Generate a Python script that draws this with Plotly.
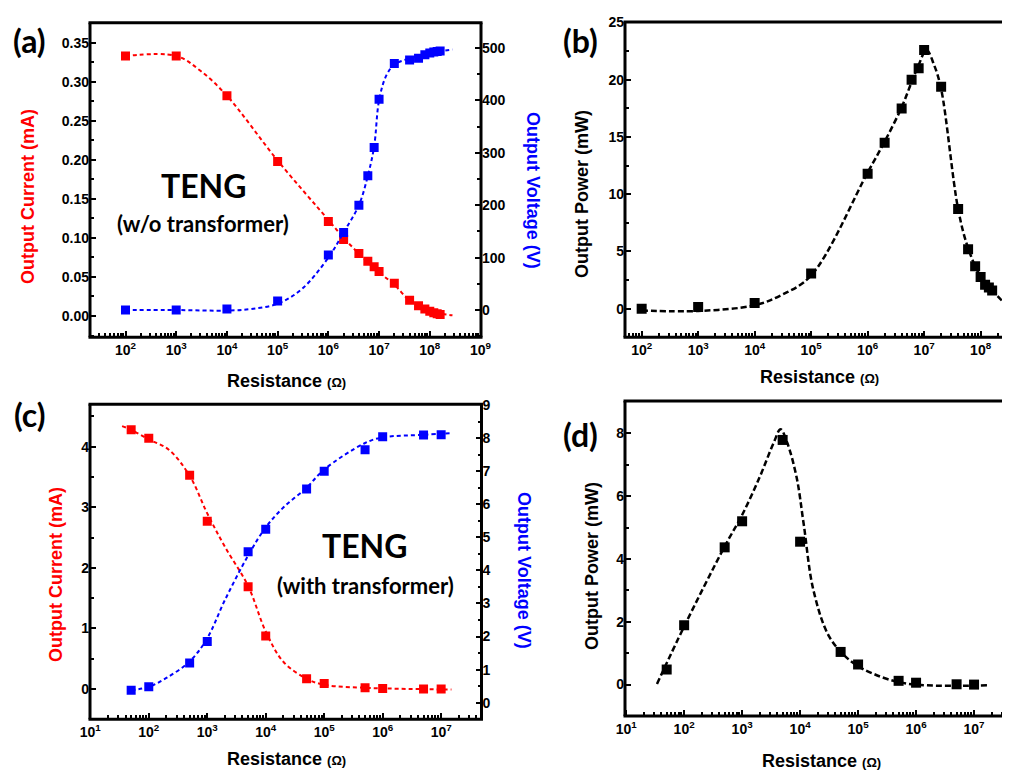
import plotly.graph_objects as go

# ---------------- data ----------------
# panel (a): TENG without transformer
A_R = [1e2, 1e3, 1e4, 1e5, 1e6, 2e6, 4e6, 6e6, 8e6, 1e7, 2e7, 4e7, 6e7, 8e7, 1e8, 1.2e8, 1.4e8, 1.6e8]
A_I = [0.333, 0.333, 0.282, 0.198, 0.121, 0.098, 0.080, 0.070, 0.063, 0.057, 0.042, 0.020, 0.013,
       0.009, 0.006, 0.004, 0.003, 0.002]
A_V = [0, 0, 2, 17, 105, 148, 200, 256, 310, 402, 470, 477, 480, 487, 490, 492, 493, 494]
# fitted (dashed) curves
A_FIT_I_R = [1e2, 1e3, 3e3, 1e4, 1e5, 1e6, 2e6, 4e6, 1e7, 2e7, 4e7, 1e8, 2.8e8]
A_FIT_I = [0.333, 0.333, 0.314, 0.282, 0.199, 0.123, 0.100, 0.080, 0.056, 0.040, 0.020, 0.006, 0.001]
A_FIT_V_R = [1e2, 1e3, 1e4, 3e4, 1e5, 3e5, 1e6, 2e6, 4e6, 6e6, 8e6, 1e7, 1.4e7, 2e7, 4e7, 1e8, 2.8e8]
A_FIT_V = [0, 0, -1, 2, 12, 40, 100, 148, 200, 256, 312, 400, 448, 468, 480, 490, 497]

# panel (b): output power without transformer
B_R = A_R
B_P = [0, 0.15, 0.5, 3.07, 11.8, 14.5, 17.5, 20.0, 21.0, 22.6, 19.4, 8.7, 5.2, 3.7, 2.77, 2.1, 1.85, 1.6]
B_FIT_R = [1e2, 1e3, 1e4, 3e4, 1e5, 1e6, 2e6, 4e6, 6e6, 8e6, 1.1e7, 1.5e7, 2e7, 4e7, 6e7, 1e8, 1.6e8, 2.5e8]
B_FIT_P = [-0.15, -0.2, 0.3, 1.2, 2.9, 11.9, 14.6, 17.6, 19.8, 21.3, 22.6, 21.3, 19.2, 8.7, 5.3, 2.8, 1.6, 0.6]

# panel (c): TENG with transformer
C_R = [5e1, 1e2, 5e2, 1e3, 5e3, 1e4, 5e4, 1e5, 5e5, 1e6, 5e6, 1e7]
C_I = [4.28, 4.14, 3.53, 2.77, 1.69, 0.875, 0.17, 0.09, 0.02, 0.01, 0.0, 0.0]
C_V = [0.38, 0.48, 1.20, 1.85, 4.56, 5.24, 6.46, 7.0, 7.65, 8.04, 8.09, 8.1]
C_FIT_I_R = [35, 5e1, 1e2, 2.2e2, 5e2, 1e3, 2e3, 5e3, 1e4, 2e4, 5e4, 1e5, 5e5, 1e6, 1.5e7]
C_FIT_I = [4.34, 4.28, 4.12, 3.95, 3.52, 2.9, 2.35, 1.7, 0.95, 0.45, 0.17, 0.07, 0.02, 0.01, -0.01]
C_FIT_V_R = [5e1, 1e2, 2e2, 5e2, 1e3, 2e3, 5e3, 1e4, 2e4, 5e4, 1e5, 5e5, 1e6, 5e6, 1.5e7]
C_FIT_V = [0.38, 0.48, 0.75, 1.25, 1.95, 3.1, 4.45, 5.3, 5.9, 6.5, 7.05, 7.85, 8.02, 8.1, 8.15]

# panel (d): output power with transformer
D_R = C_R
D_P = [0.48, 1.89, 4.37, 5.2, 7.79, 4.55, 1.04, 0.64, 0.12, 0.06, 0.01, 0.0]
D_FIT_R = [34, 1e2, 5e2, 1e3, 2e3, 3.5e3, 4.6e3, 6e3, 8.7e3, 1.15e4, 1.7e4, 3.2e4, 7.2e4, 1.8e5, 7e5, 1.8e7]
D_FIT_P = [0.02, 1.85, 4.4, 5.4, 6.6, 7.7, 8.13, 7.7, 6.6, 5.13, 3.0, 1.52, 0.77, 0.35, 0.03, -0.02]

# tick labels
AB_XTICKS = [1e2, 1e3, 1e4, 1e5, 1e6, 1e7, 1e8, 1e9]
AB_XLABELS = ["10<sup>2</sup>", "10<sup>3</sup>", "10<sup>4</sup>", "10<sup>5</sup>",
              "10<sup>6</sup>", "10<sup>7</sup>", "10<sup>8</sup>", "10<sup>9</sup>"]
CD_XTICKS = [1e1, 1e2, 1e3, 1e4, 1e5, 1e6, 1e7]
CD_XLABELS = ["10<sup>1</sup>", "10<sup>2</sup>", "10<sup>3</sup>", "10<sup>4</sup>",
              "10<sup>5</sup>", "10<sup>6</sup>", "10<sup>7</sup>"]

RED = "#ff0000"
BLUE = "#0000ff"
BLACK = "#000000"

# ---------------- layout helpers ----------------
# the page body has an 8px margin at top/left; the figure runs to the window's far edges
OFF = 8
W, H = 1010 - OFF, 770 - OFF


def px(x):
    return (x - OFF) / W


def py(y):
    return 1 - (y - OFF) / H


fig = go.Figure()


def add_series(xf, yf, xm, ym, color, xa, ya, dash, lw, msize):
    fig.add_trace(go.Scatter(x=xf, y=yf, mode="lines", xaxis=xa, yaxis=ya,
                             line=dict(color=color, width=lw, dash=dash, shape="spline", smoothing=1.0),
                             showlegend=False, hoverinfo="skip"))
    fig.add_trace(go.Scatter(x=xm, y=ym, mode="markers", xaxis=xa, yaxis=ya,
                             marker=dict(symbol="square", size=msize, color=color, line=dict(width=0)),
                             showlegend=False))


add_series(A_FIT_I_R, A_FIT_I, A_R, A_I, RED, "x", "y", "4px,3px", 2, 9)
add_series(A_FIT_V_R, A_FIT_V, A_R, A_V, BLUE, "x", "y2", "4px,3px", 2, 9)
add_series(B_FIT_R, B_FIT_P, B_R, B_P, BLACK, "x2", "y3", "6px,3px", 2.5, 10)
add_series(C_FIT_I_R, C_FIT_I, C_R, C_I, RED, "x3", "y4", "4px,3px", 2, 9)
add_series(C_FIT_V_R, C_FIT_V, C_R, C_V, BLUE, "x3", "y5", "4px,3px", 2, 9)
add_series(D_FIT_R, D_FIT_P, D_R, D_P, BLACK, "x4", "y6", "6px,3px", 2.5, 10)

TICKFONT = dict(family="Liberation Sans, Arial, sans-serif", size=14, color="black", weight="bold")


def xaxis(domain, anchor, rng, tickvals, ticktext):
    return dict(domain=domain, anchor=anchor, type="log", range=rng,
                tickmode="array", tickvals=tickvals, ticktext=ticktext,
                ticks="inside", ticklen=6, tickwidth=2, tickcolor="black",
                showline=False, showgrid=False, zeroline=False, tickfont=TICKFONT,
                automargin=False, ticklabelstandoff=3,
                minor=dict(dtick="D1", ticks="inside",
                           ticklen=4, tickwidth=1.5, tickcolor="black", showgrid=False))


def yaxis(domain, anchor, rng, dtick, mdtick, fmt=None, side="left", overlay=None):
    d = dict(anchor=anchor, range=rng, tickmode="linear", tick0=0, dtick=dtick,
             ticks="inside", ticklen=6, tickwidth=2, tickcolor="black",
             showline=False, side=side,
             showgrid=False, zeroline=False, tickfont=TICKFONT, automargin=False,
             minor=dict(dtick=mdtick, ticks="inside", ticklen=4, tickwidth=1.5,
                        tickcolor="black", showgrid=False))
    if fmt:
        d["tickformat"] = fmt
    if overlay:
        d["overlaying"] = overlay
    else:
        d["domain"] = domain
    return d


# panel boxes in page pixels (left, right, top, bottom)
BOX_A = (90, 481, 22.7, 337.3)
BOX_B = (625, 1010, 22.0, 337.3)
BOX_C = (90, 481.5, 404.3, 719.3)
BOX_D = (625, 1010, 401, 716)


def dom_x(box):
    return [px(box[0]), min(1.0, px(box[1]))]


def dom_y(box):
    return [py(box[3]), py(box[2])]


fig.update_layout(
    width=W, height=H,
    margin=dict(l=0, r=0, t=0, b=0, pad=0, autoexpand=False),
    paper_bgcolor="white", plot_bgcolor="rgba(0,0,0,0)",
    showlegend=False,
    xaxis=xaxis(dom_x(BOX_A), "y", [1.3, 9.01], AB_XTICKS, AB_XLABELS),
    yaxis=yaxis(dom_y(BOX_A), "x", [-0.0273, 0.3756], 0.05, 0.025, fmt=".2f"),
    yaxis2=yaxis(None, "x", [-52, 548], 100, 50, side="right", overlay="y"),
    xaxis2=xaxis(dom_x(BOX_B), "y3", [1.705, 8.52], AB_XTICKS, AB_XLABELS),
    yaxis3=yaxis(dom_y(BOX_B), "x2", [-2.5, 25.05], 5, 2.5),
    xaxis3=xaxis(dom_x(BOX_C), "y4", [0.995, 7.69], CD_XTICKS, CD_XLABELS),
    yaxis4=yaxis(dom_y(BOX_C), "x3", [-0.5, 4.7], 1, 0.5),
    yaxis5=yaxis(None, "x3", [-0.5, 9.02], 1, 0.5, side="right", overlay="y4"),
    xaxis4=xaxis(dom_x(BOX_D), "y6", [0.98, 7.62], CD_XTICKS, CD_XLABELS),
    yaxis6=yaxis(dom_y(BOX_D), "x4", [-1, 9.03], 2, 1),
)

# plot frames drawn in paper space (closed box for a/c; b/d boxes run off the right edge)
FRAME = dict(color="black", width=3)


def frame_line(x0, y0, x1, y1):
    fig.add_shape(type="line", xref="paper", yref="paper", x0=px(x0), y0=py(y0),
                  x1=px(x1), y1=py(y1), line=FRAME, layer="above")


for box, closed in ((BOX_A, True), (BOX_C, True), (BOX_B, False), (BOX_D, False)):
    l, r, t, b = box
    frame_line(l - 1.5, b, r + 1.5, b)
    frame_line(l - 1.5, t, r + 1.5, t)
    frame_line(l, t, l, b)
    if closed:
        frame_line(r, t, r, b)

TITLE_FAMILY = "Liberation Sans, Arial, sans-serif"
LABEL_FAMILY = "Lato, Open Sans, sans-serif"


def ann(text, x, y, size, color="black", angle=0, family=TITLE_FAMILY):
    fig.add_annotation(text=text, x=px(x), y=py(y), xref="paper", yref="paper",
                       xanchor="center", yanchor="middle", showarrow=False, textangle=angle,
                       font=dict(family=family, size=size, color=color))


RES_TITLE = "<b>Resistance </b><span style='font-size:13px'><b>(Ω)</b></span>"

# panel letters
ann("<b>(a)</b>", 29, 40, 32, family=LABEL_FAMILY)
ann("<b>(b)</b>", 580, 40, 32, family=LABEL_FAMILY)
ann("<b>(c)</b>", 30, 414, 32, family=LABEL_FAMILY)
ann("<b>(d)</b>", 580, 434, 32, family=LABEL_FAMILY)

# axis titles
ann("<b>Output Current (mA)</b>", 28, 197, 18, RED, -90)
ann("<b>Output Voltage (V)</b>", 533, 190, 18, BLUE, 90)
ann(RES_TITLE, 286, 381, 18)
ann("<b>Output Power (mW)</b>", 582, 194, 18, BLACK, -90)
ann(RES_TITLE, 819, 377, 18)
ann("<b>Output Current (mA)</b>", 56, 575, 18, RED, -90)
ann("<b>Output Voltage (V)</b>", 524, 570, 18, BLUE, 90)
ann(RES_TITLE, 286, 759, 18)
ann("<b>Output Power (mW)</b>", 592, 566, 18, BLACK, -90)
ann(RES_TITLE, 821, 761, 18)

# in-plot labels
ann("<b>TENG</b>", 204, 185, 32, family=LABEL_FAMILY)
ann("<b>(w/o transformer)</b>", 203, 224, 22, family=LABEL_FAMILY)
ann("<b>TENG</b>", 365, 545, 32, family=LABEL_FAMILY)
ann("<b>(with transformer)</b>", 365, 585, 22, family=LABEL_FAMILY)

fig.write_html("out.html")
